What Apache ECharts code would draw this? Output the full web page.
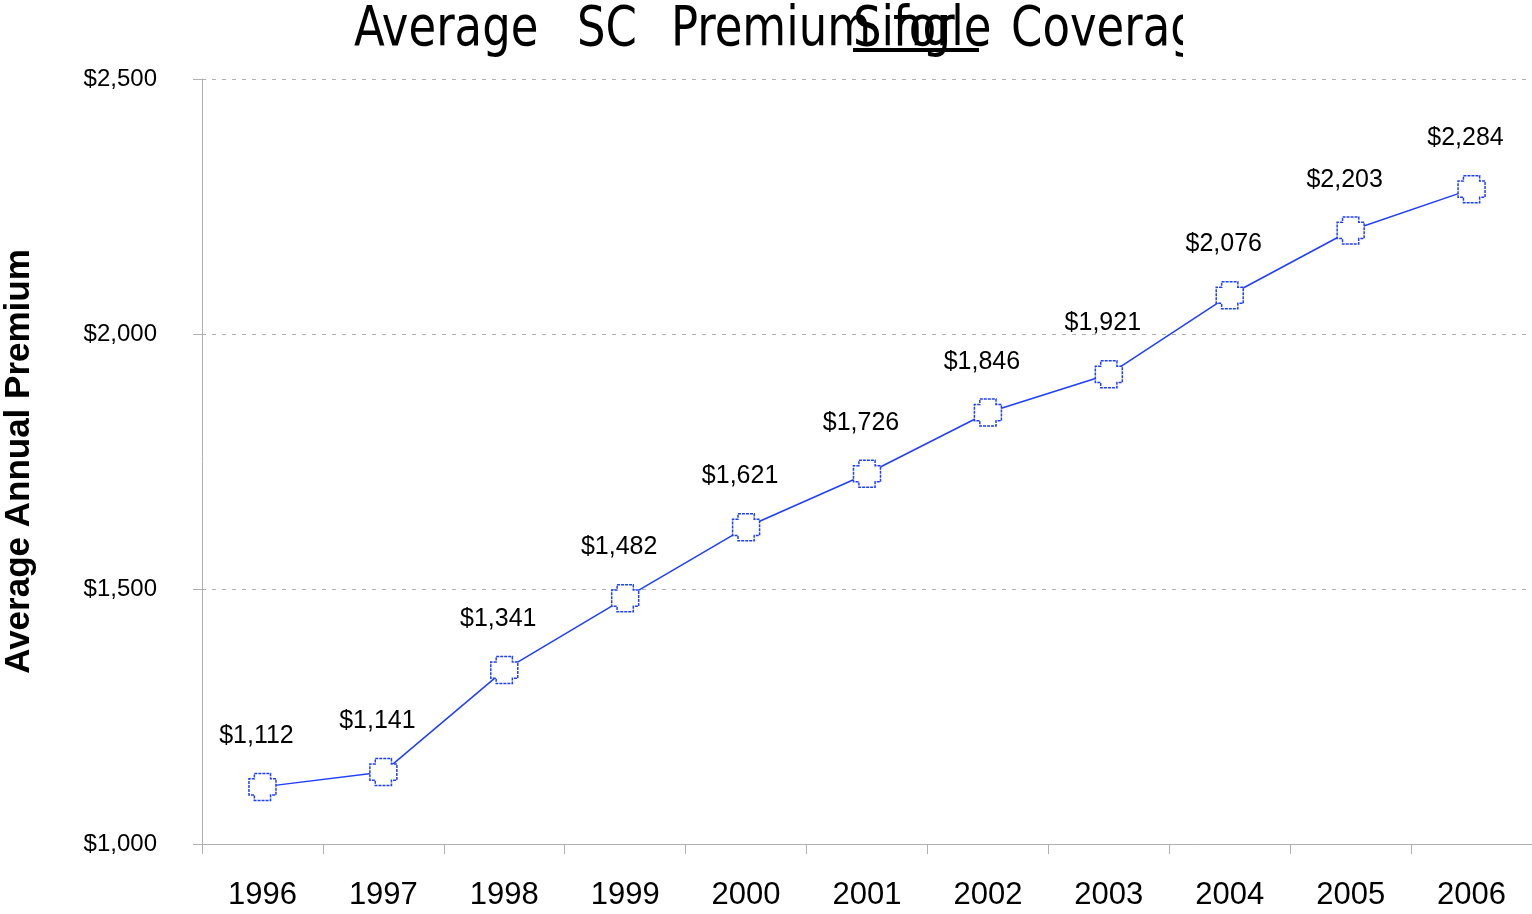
<!DOCTYPE html>
<html><head><meta charset="utf-8">
<script src="https://cdn.jsdelivr.net/npm/echarts@6/dist/echarts.min.js"></script>
<style>html,body{margin:0;padding:0;background:#fff}#c{width:1532px;height:914px}</style>
</head><body><div id="c"></div>
<script>
const years = ['1996','1997','1998','1999','2000','2001','2002','2003','2004','2005','2006'];
const premiums = [1112,1141,1341,1482,1621,1726,1846,1921,2076,2203,2284];
const yMin = 1000, yMax = 2500, yStep = 500;
const yAxisName = 'Average Annual Premium';

const fmt = v => '$' + v.toLocaleString('en-US');
const chart = echarts.init(document.getElementById('c'), null, {renderer:'canvas'});
const titleFont = '"DejaVu Sans Condensed", "DejaVu Sans", sans-serif';
const tStyle = (x, txt) => ({type:'text', x:x, y:3, scaleY:1.1, z:10, style:{text:txt, font:'normal 50px ' + titleFont, fill:'#000', textVerticalAlign:'top'}});
chart.setOption({
  animation:false,
  backgroundColor:'#fff',
  graphic:[
    tStyle(354,'Average'),
    tStyle(577,'SC'),
    tStyle(671,'Premium'),
    tStyle(893,'for'),
    tStyle(853,'Single'),
    tStyle(1011,'Coverage'),
    {type:'rect', x:853, y:48, z:11, shape:{width:126, height:4}, style:{fill:'#000'}},
    {type:'rect', x:1183, y:0, z:12, shape:{width:200, height:64}, style:{fill:'#fff'}}
  ],
  grid:{left:202, right:0, top:79, bottom:70, containLabel:false, outerBoundsMode:'none'},
  xAxis:{
    type:'category', data:years, boundaryGap:true,
    axisLine:{lineStyle:{color:'#b0b0b0', width:1}},
    axisTick:{show:true, length:10, inside:false, lineStyle:{color:'#b0b0b0'}},
    axisLabel:{fontFamily:'Arial, "Liberation Sans", sans-serif', fontSize:31, color:'#000', margin:36}
  },
  yAxis:{
    type:'value', min:yMin, max:yMax, interval:yStep,
    name:yAxisName, nameLocation:'middle', nameGap:165, nameRotate:90,
    nameTextStyle:{fontFamily:'Arial, "Liberation Sans", sans-serif', fontSize:35, fontWeight:'bold', color:'#000'},
    axisLine:{show:true, lineStyle:{color:'#b0b0b0', width:1}},
    axisTick:{show:true, length:9, lineStyle:{color:'#b0b0b0'}},
    axisLabel:{formatter:fmt, fontFamily:'Arial, "Liberation Sans", sans-serif', fontSize:24, color:'#000', margin:45, verticalAlign:'middle', padding:[0,0,8,0]},
    splitLine:{show:true, lineStyle:{color:'#b0b0b0', type:[4,6], width:1}}
  },
  series:[{
    type:'line', data:premiums,
    symbol:'path://M2,0 L8,0 L8,2 L10,2 L10,8 L8,8 L8,10 L2,10 L2,8 L0,8 L0,2 L2,2 Z',
    symbolSize:27, showAllSymbol:true,
    itemStyle:{color:'#fff', borderColor:'#1f3fff', borderWidth:1.5, borderType:[3,1]},
    lineStyle:{color:'#1f3fff', width:1.5},
    label:{show:true, position:'top', distance:24, offset:[-6,0], formatter:p => fmt(p.value),
      fontFamily:'Arial, "Liberation Sans", sans-serif', fontSize:25, color:'#000'}
  }]
});
</script></body></html>
